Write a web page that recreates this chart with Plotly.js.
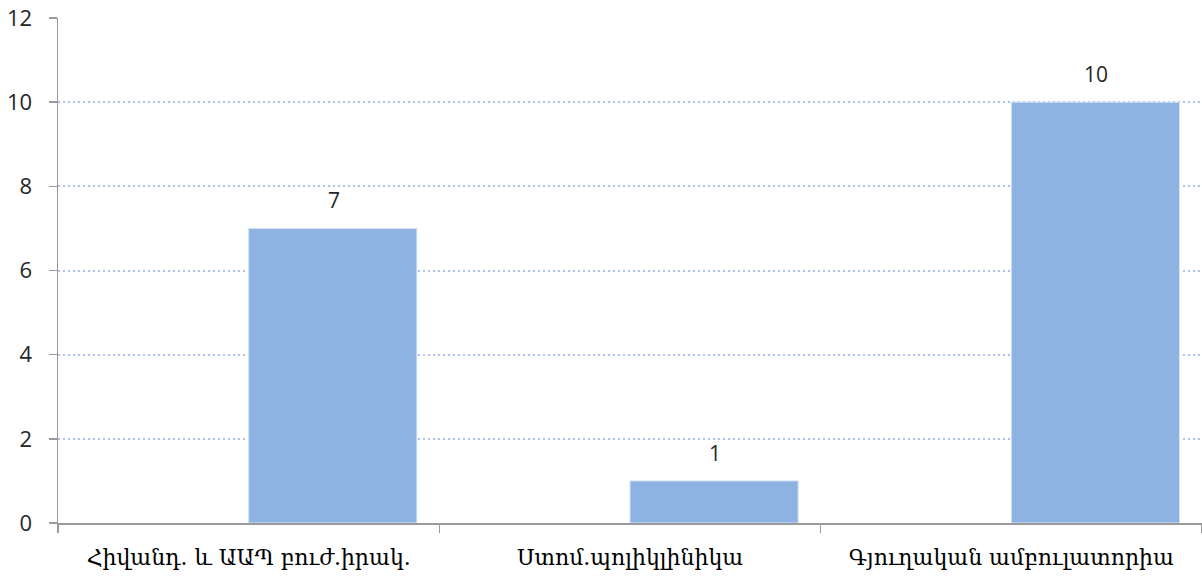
<!DOCTYPE html>
<html>
<head>
<meta charset="utf-8">
<script src="https://cdn.plot.ly/plotly-3.0.1.min.js"></script>
<style>html,body{margin:0;padding:0;background:#fff;}#chart{width:1202px;height:581px;}</style>
</head>
<body>
<div id="chart"></div>
<script>
var categories = ["Հիվանդ. և ԱԱՊ բուժ.իրակ.", "Ստոմ.պոլիկլինիկա", "Գյուղական ամբուլատորիա"];
var emptySeries = [null, null, null];
var values = [7, 1, 10];
var yTicks = [0, 2, 4, 6, 8, 10, 12];

var numFont = "Open Sans, Liberation Sans, sans-serif";

var traces = [
  {type: "bar", x: categories, y: emptySeries, marker: {color: "#4f81bd"}, hoverinfo: "skip", showlegend: false},
  {type: "bar", x: categories, y: values, marker: {color: "#8eb2e2", line: {color: "#d4e2f5", width: 1}},
   showlegend: false}
];

var annotations = categories.map(function (c, i) {
  return {
    x: c, y: values[i], xref: "x", yref: "y",
    xshift: 85,
    text: String(values[i]), showarrow: false,
    yanchor: "bottom", yshift: 12,
    font: {family: numFont, size: 21, color: "#262626"}
  };
});

var layout = {
  width: 1202, height: 581,
  margin: {l: 58, r: 0, t: 18, b: 58},
  paper_bgcolor: "#fff", plot_bgcolor: "#fff",
  barmode: "group", bargap: 0.118, bargroupgap: 0,
  showlegend: false,
  annotations: annotations,
  xaxis: {
    type: "category", range: [-0.5, 2.5],
    showline: true, linecolor: "#9a9a9a", linewidth: 1.5,
    ticks: "outside", tickson: "boundaries", ticklen: 8, tickcolor: "#9a9a9a", tickwidth: 1.5,
    showgrid: false, zeroline: false,
    ticklabelstandoff: 14,
    tickfont: {family: "DejaVu Serif, serif", size: 22, color: "#000"}
  },
  yaxis: {
    range: [0, 12], tickvals: yTicks, ticktext: yTicks.map(String),
    showline: true, linecolor: "#9a9a9a", linewidth: 1.5,
    ticks: "outside", ticklen: 8, tickcolor: "#9a9a9a", tickwidth: 1.5,
    showgrid: true, gridcolor: "#adc2ec", griddash: "2px,3px", gridwidth: 2,
    zeroline: false,
    ticklabelstandoff: 12,
    tickfont: {family: numFont, size: 22, color: "#262626"}
  }
};

Plotly.newPlot("chart", traces, layout, {staticPlot: true, displayModeBar: false});
</script>
</body>
</html>
